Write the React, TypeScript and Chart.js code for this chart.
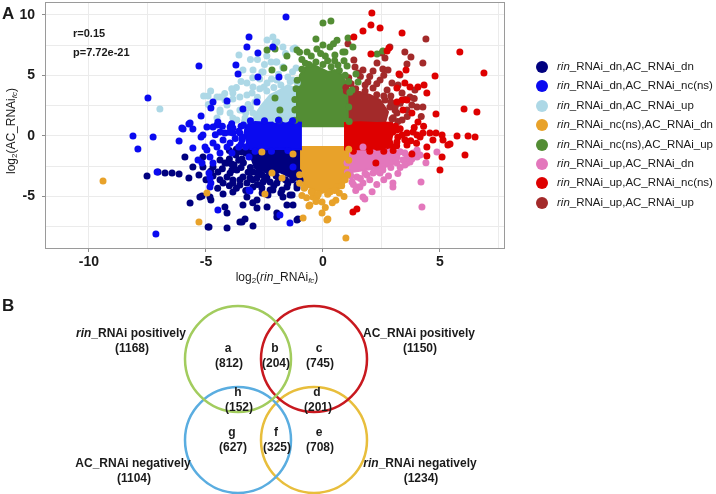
import React, { useEffect, useRef } from 'react';
import { Chart, registerables } from 'chart.js';

Chart.register(...registerables);

const FONT = '"Liberation Sans", Arial, Helvetica, sans-serif';
const INK = '#1a1a1a';

type P = [number, number];

// ---------- Panel A data ----------
const groupSuffixes = [
  '_RNAi_dn,AC_RNAi_dn',
  '_RNAi_dn,AC_RNAi_nc(ns)',
  '_RNAi_dn,AC_RNAi_up',
  '_RNAi_nc(ns),AC_RNAi_dn',
  '_RNAi_nc(ns),AC_RNAi_up',
  '_RNAi_up,AC_RNAi_dn',
  '_RNAi_up,AC_RNAi_nc(ns)',
  '_RNAi_up,AC_RNAi_up',
];
const groupColors = ['#00007F', '#0A0AF0', '#ADD8E6', '#E8A22A', '#538D34', '#E377BC', '#DE0000', '#A32A2A'];

const navyPts: P[] = [
  [-7.52, -3.3], [-7.05, -2.97], [-6.75, -3.05], [-6.45, -3.05], [-6.15, -3.13], [-5.73, -3.46], [-5.3, -3.22],
  [-5.13, -2.56], [-4.7, -2.56], [-4.4, -1.98], [-4.1, -2.23], [-3.97, -3.05], [-4.27, -3.87], [-3.85, -3.87],
  [-3.55, -3.63], [-5.26, -5.03], [-4.83, -5.03], [-5.56, -2.56], [-5.9, -1.73], [-5.13, -1.73], [-5.68, -5.52],
  [-5.17, -4.95], [-4.91, -7.5], [-4.27, -4.78], [-4.19, -5.85], [-4.1, -6.35], [-3.85, -4.62], [-4.1, -7.58],
  [-3.55, -7.09], [-3.33, -6.84], [-2.99, -7.42], [-3.42, -5.69], [-2.82, -5.28], [-2.82, -5.94], [-2.39, -5.85],
  [-1.97, -6.35], [-1.54, -5.69], [-1.28, -5.69], [-1.07, -6.84], [-1.41, -4.86], [-1.71, -5.03], [-2.14, -4.45],
  [-2.35, -4.86], [-2.99, -4.2], [-3.25, -5.03], [-2.61, -4.29], [-1.11, -4.29], [-4.19, -2.23], [-3.89, -2.8],
  [-3.68, -2.8], [-3.42, -3.38], [-3.12, -3.46], [-2.82, -3.46], [-2.56, -3.79], [-2.26, -3.79], [-1.97, -3.87],
  [-1.54, -4.2], [-1.11, -4.04], [-0.98, -3.63], [-3.25, -3.87], [-3.55, -4.04], [-3.85, -3.63], [-4.1, -3.38],
  [-1.97, -6.68], [-1.11, -6.92], [-1.32, -4.86], [-1.75, -4.45], [-2.26, -4.45], [-3.46, -7.09], [-4.87, -7.5],
  [-4.79, -5.28], [-4.7, -3.3], [-4.49, -2.97], [-3.72, -1.57], [-3.46, -1.9], [-2.99, -2.97], [-2.7, -3.05],
  [-4.0, -1.9], [-3.8, -2.4], [-3.3, -1.4], [-3.4, -2.2], [-3.1, -2.6], [-1.3, -3.6], [-1.6, -3.6], [-2.0, -3.3],
  [-2.4, -3.4], [-2.8, -3.0], [-3.3, -1.1], [-3.5, -1.3], [-3.7, -1.1], [-4.0, -1.2], [-3.6, -2.0], [-3.9, -2.3],
  [-3.2, -3.0], [-2.5, -3.6], [-1.9, -3.5], [-1.2, -3.4], [-1.5, -3.9], [-2.1, -4.1], [-2.8, -4.0], [-3.3, -4.5],
  [-3.7, -4.3], [-4.4, -3.6], [-4.5, -4.3], [-3.0, -3.6], [-1.05, -3.0], [-1.3, -3.1], [-2.3, -2.9], [-2.6, -3.2],
  [-3.5, -2.6], [-4.3, -2.7], [-4.8, -2.9], [-5.0, -3.6], [-4.0, -4.1], [-1.8, -4.7], [-2.6, -4.7], [-3.0, -5.5],
];
const bluePts: P[] = [
  [-1.58, 9.81], [-3.16, 8.16], [-3.25, 7.34], [-2.78, 6.84], [-2.14, 7.34], [-5.3, 5.77], [-3.72, 5.85],
  [-3.63, 5.11], [-2.78, 4.86], [-1.88, 4.86], [-7.48, 3.13], [-4.1, 2.89], [-4.79, 2.31], [-2.82, 2.8],
  [-5.21, 1.65], [-5.73, 0.99], [-5.98, 0.58], [-8.12, 0], [-7.26, -0.08], [-7.91, -1.07], [-6.15, -0.41],
  [-5.21, -0.08], [-4.96, 0.74], [-4.53, 0.91], [-4.4, 0.33], [-3.97, 0.74], [-3.85, 0.25], [-5.04, -0.91],
  [-4.7, -0.58], [-4.27, -0.33], [-4.83, -1.73], [-4.87, -3.05], [-4.79, -3.87], [-1.28, -2.56], [-5.34, -1.98],
  [-7.14, -8.08], [-4.49, -6.1], [-4.83, -4.2], [-3.16, -4.45], [-1.84, -6.51], [-1.41, -7.17], [-7.09, -2.97],
  [-4.83, -3.46], [-3.12, -4.53], [-3.16, -1.73], [-3.89, -1.4], [-6.03, 0.66], [-5.68, 1.07], [-5.56, 0.58],
  [-5.13, 0.08], [-4.7, 0.74], [-4.49, 1.15], [-4.19, 0.25], [-3.85, 0.66], [-3.55, 0.25], [-3.46, -0.33],
  [-3.97, -0.58], [-4.53, -0.91], [-4.96, -1.15], [-5.56, -0.99], [-5.17, -2.23], [-4.7, -2.23], [-4.4, -1.4],
  [-4.7, 2.8], [-3.42, 2.23], [-3.6, -0.9], [-3.5, 0.8], [-3.4, 0.9], [-3.45, -0.1], [-3.5, -0.7], [-3.6, 0.4],
  [-3.75, -0.2], [-4.0, 0.3], [-4.1, -0.9], [-3.3, -0.9], [-2.9, -1.25], [-2.2, -1.25], [-1.5, -1.2], [-3.1, 1.25],
  [-2.5, 1.25], [-1.9, 1.3], [-1.3, 1.25], [-4.3, 0.8], [-4.6, 0.1], [-3.9, 1.0],
];
const lightbluePts: P[] = [
  [-6.97, 2.23], [-3.59, 6.68], [-2.39, 7.91], [-2.14, 8.16], [-2.05, 7.67], [-1.71, 7.34], [-1.28, 7.17],
  [-2.01, 6.1], [-3.42, 5.44], [-2.56, 5.28], [-4.91, 3.3], [-4.53, 3.22], [-4.4, 3.22], [-3.85, 3.54],
  [-3.55, 3.22], [-3.25, 3.38], [-4.4, 2.14], [-3.97, 1.9], [-3.55, 2.14], [-3.85, 1.48], [-4.53, 1.48],
  [-2.99, 1.9], [-4.1, 2.56], [-2.52, 4.04], [-2.99, 4.04], [-3.25, 4.37], [-1.71, 5.69], [-1.97, 7.75],
  [-2.22, 6.1], [-1.97, 6.1], [-2.99, 5.44], [-2.61, 5.28], [-1.71, 5.61], [-1.2, 7.25], [-4.19, 2.97],
  [-3.85, 3.05], [-3.03, 3.54], [-3.46, 2.14], [-3.33, 1.48], [-3.68, 1.32], [-2.91, 2.8], [-2.39, 4.37],
  [-1.97, 4.62], [-1.5, 4.86], [-1.28, 4.62], [-4.4, 1.98], [-1.3, 5.3], [-2.7, 4.7], [-3.7, 4.0], [-3.2, 2.6],
  [-1.1, 4.4], [-1.4, 4.5], [-1.8, 4.2], [-2.1, 4.0], [-2.4, 3.7], [-2.8, 3.2], [-3.1, 2.3], [-3.3, 1.9],
  [-2.7, 3.9], [-2.2, 4.7], [-1.9, 5.1], [-1.15, 5.6], [-2.5, 5.9], [-3.0, 4.8], [-3.5, 4.5], [-3.9, 3.9],
  [-4.2, 3.5], [-4.8, 3.7], [-4.9, 2.6], [-5.1, 3.3], [-3.1, 6.3], [-2.8, 6.3], [-1.6, 6.8], [-2.4, 6.6],
  [-3.35, 1.2], [-2.0, 1.35], [-1.6, 1.4],
];
const orangePts: P[] = [
  [-9.4, -3.71], [-2.61, -1.32], [-2.18, -3.05], [-1.75, -3.46], [-4.96, -4.7], [-2.48, -4.78], [-5.3, -7.09],
  [-0.6, -5.77], [-0.04, -6.35], [0.21, -6.84], [-0.85, -6.76], [-0.43, -5.03], [0.98, -8.41], [-1.28, -1.48],
  [-0.56, -5.69], [-0.26, -5.03], [-0.04, -5.44], [0.17, -6.92], [0.3, -4.62], [0.6, -4.2], [0.81, -3.79],
  [-0.43, -4.62], [-0.77, -4.2], [0.9, -5.0], [0.55, -5.3], [-0.9, -4.9], [0.1, -5.9], [1.05, -3.2],
  [0.95, -3.6], [0.8, -4.1], [0.5, -4.5], [0.2, -4.8], [-0.2, -4.8], [-0.5, -4.6], [-0.8, -4.3], [-1.0, -3.9],
  [-1.0, -3.2], [0.7, -4.7], [-0.3, -5.4], [0.4, -5.5], [-0.7, -5.1], [1.1, -1.1], [1.1, -2.0],
];
const greenPts: P[] = [
  [0, 9.32], [0.34, 9.48], [-2.39, 7.09], [-2.05, 7.17], [-1.11, 7.09], [-0.68, 6.93], [-0.26, 7.17], [0, 7.5],
  [0.3, 7.34], [0.85, 6.93], [1.07, 8.08], [-2.18, 5.44], [-2.05, 3.13], [-1.84, 2.14], [-1.88, 1.32],
  [-1.54, 6.6], [0.51, 6.68], [0.94, 6.93], [1.28, 7.34], [2.31, 6.76], [2.56, 7.0], [0.64, 5.85], [1.03, 5.77],
  [1.41, 5.11], [1.5, 4.45], [1.24, 3.79], [-1.67, 5.61], [-1.2, 2.14], [-0.5, 6.6], [0.2, 6.2], [-0.9, 6.3],
  [0.6, 7.9], [-0.3, 8.0], [-1.2, 1.3], [-1.15, 2.2], [-1.2, 3.0], [-1.15, 3.9], [-1.1, 4.6], [-0.9, 5.5],
  [-0.6, 5.9], [-0.3, 6.1], [0.0, 5.9], [0.35, 5.7], [0.7, 5.4], [0.95, 5.0], [1.1, 4.5], [1.15, 3.6],
  [1.1, 2.4], [1.12, 1.2], [-0.75, 6.0], [0.1, 6.6], [0.5, 6.2], [-0.1, 6.8], [0.9, 6.2], [-1.0, 6.9], [0.45, 7.6],
];
const pinkPts: P[] = [
  [1.71, -0.91], [2.14, -1.4], [2.65, -1.32], [3.16, -1.57], [3.59, -1.73], [4.02, -1.15], [4.15, -1.57],
  [3.16, -2.23], [3.59, -2.23], [2.56, -2.56], [2.99, -3.87], [4.19, -3.79], [1.58, -4.2], [1.71, -5.03],
  [2.99, -4.2], [1.79, -5.19], [4.23, -5.85], [1.5, -4.2], [4.02, -1.32], [4.02, -1.73], [3.72, -2.14],
  [3.42, -1.98], [2.44, -3.05], [1.88, -3.22], [1.45, -3.38], [1.24, -3.79], [4.87, -1.32], [2.86, -1.32],
  [3.85, -1.4], [2.56, -2.8], [2.14, -3.05], [1.71, -3.87], [1.15, -3.05], [1.03, -2.23], [3.3, -2.6],
  [2.8, -3.3], [1.4, -4.5], [3.3, -1.3], [3.1, -2.0], [2.9, -2.6], [2.3, -2.9], [1.8, -3.1], [1.2, -3.3],
  [1.05, -3.0], [3.5, -1.4], [3.8, -1.9], [3.5, -2.4], [2.6, -3.6], [2.0, -3.6], [1.6, -3.5], [2.3, -4.0],
  [3.2, -3.1], [1.3, -4.0], [2.1, -4.6], [4.4, -2.2],
];
const redPts: P[] = [
  [2.09, 10.14], [2.05, 9.15], [2.44, 8.9], [1.71, 8.66], [1.32, 8.16], [3.38, 8.49], [2.05, 6.76], [2.82, 7.25],
  [5.85, 6.93], [6.88, 5.19], [3.55, 5.44], [3.25, 5.11], [4.79, 4.95], [3.16, 3.96], [3.5, 4.37], [3.72, 4.04],
  [4.06, 4.04], [4.32, 4.2], [4.44, 3.54], [6.03, 2.23], [6.58, 1.98], [4.83, 1.81], [3.16, 2.8], [3.59, 2.97],
  [3.42, 2.14], [3.8, 1.9], [4.06, 1.15], [3.16, 0.49], [3.38, 0.08], [3.59, 0.25], [3.85, 0.33], [4.15, -0.08],
  [4.57, 0.25], [4.83, 0.25], [5.09, 0.08], [4.7, -0.33], [4.44, -0.91], [5.73, 0], [6.2, 0], [6.5, -0.08],
  [5.43, -0.66], [5.13, -0.33], [6.07, -1.57], [4.44, -1.65], [3.8, -1.48], [5.0, -2.8], [2.26, -2.23],
  [1.28, -6.27], [1.45, -6.02], [5.09, -1.73], [5.34, -0.74], [3.16, -0.49], [3.59, -0.74], [2.99, 0.33],
  [4.02, 0.08], [4.27, 0.25], [2.74, 7.0], [3.38, 2.97], [3.1, 0.8], [3.2, -0.1], [3.15, -0.8], [3.3, 0.6],
  [3.0, -1.2], [2.6, -1.25], [2.0, -1.25], [1.3, -1.25], [3.5, -0.3], [3.75, -0.4], [4.0, -0.6], [3.9, 0.7],
  [4.3, 0.8],
];
const darkredPts: P[] = [
  [4.4, 7.99], [3.5, 6.93], [3.76, 6.51], [4.27, 6.02], [3.59, 5.94], [2.52, 6.84], [2.65, 6.43], [2.31, 6.02],
  [2.86, 7.34], [1.32, 6.27], [1.37, 5.69], [1.71, 5.44], [2.14, 5.36], [2.56, 5.52], [2.78, 5.44], [3.29, 5.03],
  [1.92, 4.45], [2.44, 4.62], [2.95, 4.37], [2.14, 3.96], [2.74, 3.79], [3.21, 4.2], [3.38, 3.54], [3.72, 3.22],
  [3.93, 3.79], [4.02, 2.39], [4.27, 2.39], [3.8, 2.56], [3.59, 2.14], [3.16, 1.9], [3.38, 1.32], [3.08, 2.14],
  [2.65, 2.97], [2.86, 2.39], [1.07, 7.6], [1.2, 4.3], [1.6, 4.9], [0.98, 4.0], [3.0, 1.5], [2.9, 3.3],
  [1.0, 3.7], [1.4, 3.9], [1.8, 3.7], [2.3, 3.4], [2.6, 3.3], [2.9, 2.8], [3.1, 2.5], [2.95, 1.4], [3.2, 1.2],
  [1.1, 4.8], [1.5, 5.2], [2.0, 4.9], [2.6, 5.0], [2.3, 4.3], [1.8, 4.2], [3.3, 2.7], [3.5, 3.0], [3.9, 3.1],
  [3.6, 1.6], [4.2, 1.6],
];
// dense cores (outline of the saturated clusters, in data units)
const navyCore: P[] = [
  [-0.9, -0.99], [-0.9, -3.22], [-1.41, -3.38], [-1.84, -2.97], [-2.26, -3.22], [-2.61, -2.8], [-2.91, -2.64],
  [-3.03, -1.98], [-3.21, -1.32], [-3.12, -0.99],
];
const blueCore: P[] = [
  [-0.9, 1.1], [-1.6, 1.16], [-2.3, 1.1], [-2.9, 1.16], [-3.3, 1.0], [-3.35, 0.2], [-3.25, -0.5], [-3.3, -1.05],
  [-2.6, -1.12], [-1.8, -1.06], [-0.9, -1.1],
];
const lightblueCore: P[] = [
  [-0.98, 1.15], [-0.98, 3.38], [-1.2, 3.96], [-1.5, 4.2], [-1.84, 3.79], [-2.26, 3.38], [-2.61, 2.56],
  [-2.91, 1.73], [-3.03, 1.15],
];
const orangeCore: P[] = [
  [-0.98, -0.91], [1.07, -0.91], [1.07, -2.97], [0.94, -3.79], [0.64, -4.29], [0.3, -4.45], [-0.04, -4.7],
  [-0.38, -4.45], [-0.73, -4.12], [-0.94, -3.63], [-0.98, -2.8],
];
const greenCore: P[] = [
  [-1.11, 0.72], [-1.11, 3.63], [-0.98, 5.03], [-0.77, 5.61], [-0.47, 5.93], [-0.13, 5.61], [0.21, 5.28],
  [0.51, 5.44], [0.81, 5.03], [1.03, 4.2], [1.07, 0.72],
];
const pinkCore: P[] = [
  [1.03, -1.15], [3.08, -1.15], [3.29, -1.81], [2.95, -2.39], [2.44, -2.64], [1.79, -2.8], [1.24, -2.97], [1.03, -2.64],
];
const redCore: P[] = [
  [0.9, 1.08], [1.6, 1.14], [2.3, 1.08], [2.95, 1.12], [3.0, 0.4], [2.92, -0.3], [3.05, -1.0], [2.3, -1.14],
  [1.5, -1.08], [0.9, -1.12],
];
const darkredCore: P[] = [
  [0.94, 1.07], [2.65, 1.07], [2.78, 1.98], [2.44, 2.97], [2.01, 3.38], [1.58, 3.63], [1.15, 3.63], [0.94, 2.97],
];

const groupPoints = [navyPts, bluePts, lightbluePts, orangePts, greenPts, pinkPts, redPts, darkredPts];
const groupCores = [navyCore, blueCore, lightblueCore, orangeCore, greenCore, pinkCore, redCore, darkredCore];
const pointDrawOrder = [3, 1, 6, 4, 5, 2, 7, 0]; // first = top-most
const coreDrawOrder = [1, 6, 4, 3, 5, 7, 2, 0];

const xLimits: P = [-11.88, 7.78];
const yLimits: P = [-9.32, 11.05];
const gridStep = 2.5;
const labelStep = 5;
const corrText = 'r=0.15';
const pText = 'p=7.72e-21';

// ---------- Panel B data ----------
const vennSetItalic = ['rin', '', '', 'rin'];
const vennSetRest = ['_RNAi positively', 'AC_RNAi positively', 'AC_RNAi negatively', '_RNAi negatively'];
const vennSetCounts = [1168, 1150, 1104, 1234];
const vennColors = ['#A2CC5E', '#C8191F', '#5AADE0', '#E8BE3C'];
const vennCx = [-0.5, 0.5, -0.5, 0.5];
const vennCy = [0.5, 0.5, -0.5, -0.5];
const regionLetters = ['a', 'b', 'c', 'd', 'e', 'f', 'g', 'h'];
const regionCounts = [812, 204, 745, 201, 708, 325, 627, 152];

// layout (pixels) for text
const setLabelPos: P[] = [[131, 333], [419, 333], [133, 463], [420, 463]];
const regionPos: P[] = [[228, 348], [275, 348], [319, 348], [317, 392], [319, 432], [276, 432], [232, 432], [238, 392]];

const isMajor = (v: any) => typeof v === 'number' && Math.abs(v / labelStep - Math.round(v / labelStep)) < 1e-6;

const Txt = ({ x, y, anchor = 'middle', size = 12, weight = 'normal', children, style = {} }: any) => (
  <div
    style={{
      position: 'absolute',
      left: x,
      top: y,
      transform: `translate(${anchor === 'middle' ? '-50%' : '0'}, -50%)`,
      fontSize: size,
      fontWeight: weight,
      lineHeight: 1,
      whiteSpace: 'nowrap',
      ...style,
    }}
  >
    {children}
  </div>
);

const sub = (t: string, italic = false) => (
  <span style={{ fontSize: 8, verticalAlign: '-0.3em', fontStyle: italic ? 'italic' : 'normal' }}>{t}</span>
);

export default function App() {
  const scatterRef = useRef<HTMLCanvasElement>(null);
  const vennRef = useRef<HTMLCanvasElement>(null);

  useEffect(() => {
    const datasets: any[] = [];
    pointDrawOrder.forEach((i) => {
      datasets.push({
        type: 'scatter',
        label: 'rin' + groupSuffixes[i],
        data: groupPoints[i].map(([x, y]) => ({ x, y })),
        backgroundColor: groupColors[i],
        pointBackgroundColor: groupColors[i],
        pointBorderWidth: 0,
        pointRadius: 3.5,
        order: 0,
      });
    });
    coreDrawOrder.forEach((i) => {
      datasets.push({
        type: 'line',
        label: 'core' + i,
        data: groupCores[i].map(([x, y]) => ({ x, y })),
        backgroundColor: groupColors[i],
        borderColor: groupColors[i],
        borderWidth: 2,
        pointRadius: 0,
        fill: 'shape',
        tension: 0,
        order: 1,
      });
    });

    const panelBorder = {
      id: 'panelBorder',
      afterDatasetsDraw(chart: any) {
        const { ctx, chartArea: a } = chart;
        ctx.save();
        ctx.strokeStyle = '#9a9a9a';
        ctx.lineWidth = 1;
        ctx.strokeRect(a.left + 0.5, a.top + 0.5, a.right - a.left - 1, a.bottom - a.top - 1);
        ctx.restore();
      },
    };

    const tickFont = { family: FONT, size: 14, weight: 'bold' as const };
    const chart = new Chart(scatterRef.current!, {
      type: 'scatter',
      data: { datasets },
      options: {
        responsive: false,
        animation: false,
        events: [],
        layout: { autoPadding: false, padding: { left: 0, right: 211, top: 2, bottom: 0 } },
        scales: {
          x: {
            type: 'linear',
            min: xLimits[0],
            max: xLimits[1],
            afterFit: (s: any) => {
              s.height = 51;
              s.paddingLeft = 0;
              s.paddingRight = 0;
            },
            border: { display: false },
            grid: {
              color: '#ebebeb',
              lineWidth: 1,
              tickLength: 3,
              tickColor: (c: any) => (c.tick && isMajor(c.tick.value) ? '#8c8c8c' : 'rgba(0,0,0,0)'),
            },
            ticks: {
              stepSize: gridStep,
              includeBounds: false,
              autoSkip: false,
              maxRotation: 0,
              padding: 2,
              color: INK,
              font: tickFont,
              callback: (v: any) => (isMajor(v) ? String(v) : ''),
            },
          },
          y: {
            type: 'linear',
            min: yLimits[0],
            max: yLimits[1],
            afterFit: (s: any) => {
              s.width = 45;
              s.paddingTop = 0;
              s.paddingBottom = 0;
            },
            border: { display: false },
            grid: {
              color: '#ebebeb',
              lineWidth: 1,
              tickLength: 3,
              tickColor: (c: any) => (c.tick && isMajor(c.tick.value) ? '#8c8c8c' : 'rgba(0,0,0,0)'),
            },
            ticks: {
              stepSize: gridStep,
              includeBounds: false,
              autoSkip: false,
              padding: 7,
              color: INK,
              font: tickFont,
              callback: (v: any) => (isMajor(v) ? String(v) : ''),
            },
          },
        },
        plugins: { legend: { display: false }, tooltip: { enabled: false } },
      } as any,
      plugins: [panelBorder],
    });

    const venn = new Chart(vennRef.current!, {
      type: 'scatter',
      data: {
        datasets: vennColors.map((c, i) => ({
          label: vennSetRest[i],
          data: [{ x: vennCx[i], y: vennCy[i] }],
          pointRadius: 53,
          pointBackgroundColor: 'rgba(0,0,0,0)',
          pointBorderColor: c,
          pointBorderWidth: 2.5,
          clip: false,
        })),
      },
      options: {
        responsive: false,
        animation: false,
        events: [],
        layout: { autoPadding: false, padding: { left: 200, right: 364, top: 18.5, bottom: 13.5 } },
        scales: {
          x: { type: 'linear', display: false, min: -1, max: 1 },
          y: { type: 'linear', display: false, min: -1, max: 1 },
        },
        plugins: { legend: { display: false }, tooltip: { enabled: false } },
      } as any,
    });

    return () => {
      chart.destroy();
      venn.destroy();
    };
  }, []);

  return (
    <div
      style={{
        position: 'absolute',
        left: 0,
        top: 0,
        width: 716,
        height: 494,
        background: '#fff',
        fontFamily: FONT,
        color: INK,
        overflow: 'hidden',
      }}
    >
      <canvas ref={scatterRef} width={716} height={300} style={{ position: 'absolute', left: 0, top: 0 }} />
      <canvas ref={vennRef} width={716} height={194} style={{ position: 'absolute', left: 0, top: 300 }} />

      {/* Panel A texts */}
      <Txt x={2} y={12.5} anchor="left" size={17} weight="bold">A</Txt>
      <Txt x={73} y={33} anchor="left" size={11} weight="bold">{corrText}</Txt>
      <Txt x={73} y={52} anchor="left" size={11} weight="bold">{pText}</Txt>
      <div
        style={{
          position: 'absolute',
          left: 12,
          top: 131,
          transform: 'translate(-50%, -50%) rotate(-90deg)',
          fontSize: 12,
          lineHeight: 1,
          whiteSpace: 'nowrap',
        }}
      >
        log{sub('2')}(AC_RNAi{sub('fc', true)})
      </div>
      <Txt x={277} y={278} size={12}>
        log{sub('2')}(<i>rin</i>_RNAi{sub('fc', true)})
      </Txt>

      {/* Legend */}
      {groupSuffixes.map((s, i) => {
        const cy = 67 + i * 19.38;
        return (
          <React.Fragment key={s}>
            <div
              style={{
                position: 'absolute',
                left: 536,
                top: cy - 6,
                width: 12,
                height: 12,
                borderRadius: '50%',
                background: groupColors[i],
              }}
            />
            <Txt x={557} y={cy} anchor="left" size={11.5}>
              <i>rin</i>
              {s}
            </Txt>
          </React.Fragment>
        );
      })}

      {/* Panel B texts */}
      <Txt x={2} y={305} anchor="left" size={17} weight="bold">B</Txt>
      {vennSetRest.map((s, i) => (
        <React.Fragment key={s}>
          <Txt x={setLabelPos[i][0]} y={setLabelPos[i][1]} size={12} weight="bold">
            {vennSetItalic[i] ? <i>{vennSetItalic[i]}</i> : null}
            {s}
          </Txt>
          <Txt x={setLabelPos[i][0] + 1} y={setLabelPos[i][1] + 15} size={12} weight="bold">
            ({vennSetCounts[i]})
          </Txt>
        </React.Fragment>
      ))}
      {regionLetters.map((l, i) => (
        <React.Fragment key={l}>
          <Txt x={regionPos[i][0]} y={regionPos[i][1]} size={12} weight="bold">{l}</Txt>
          <Txt x={regionPos[i][0] + 1} y={regionPos[i][1] + 14.5} size={12} weight="bold">
            ({regionCounts[i]})
          </Txt>
        </React.Fragment>
      ))}
    </div>
  );
}
